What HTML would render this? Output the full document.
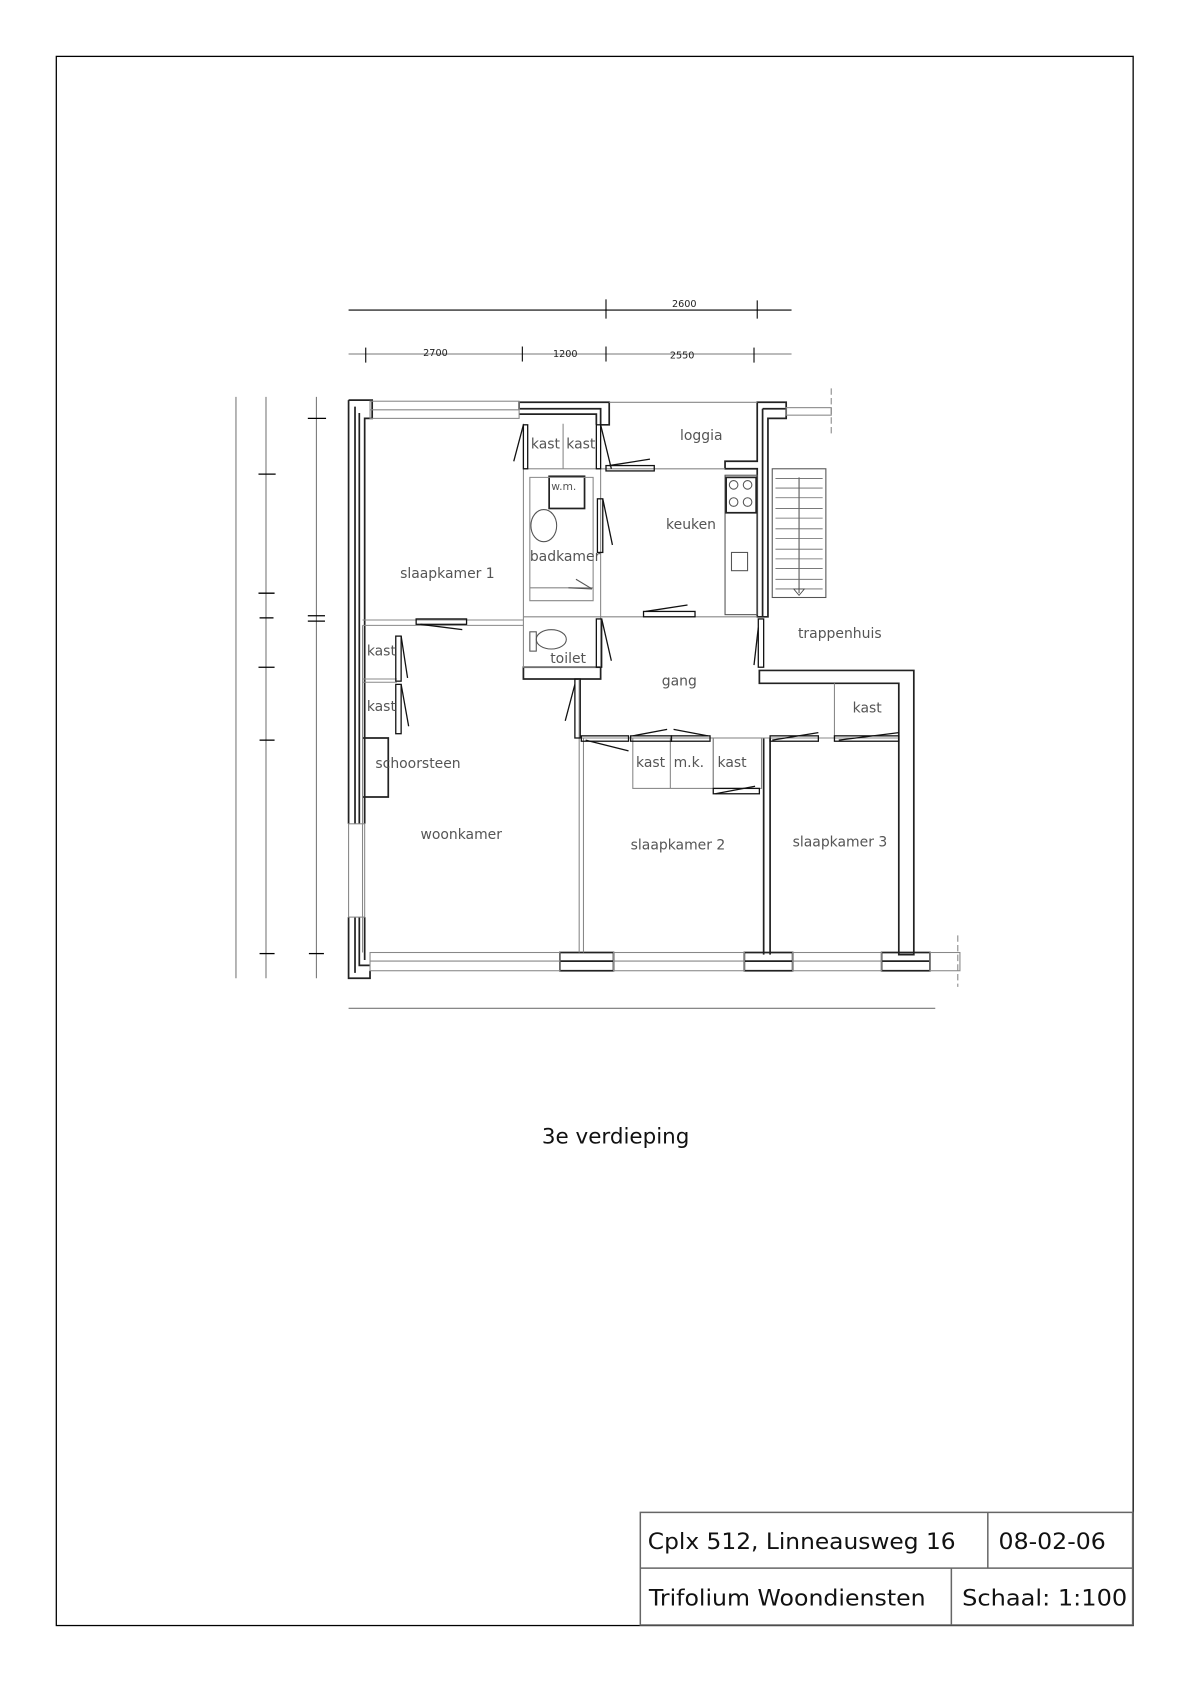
<!DOCTYPE html>
<html><head><meta charset="utf-8"><style>
html,body{margin:0;padding:0;background:#fff;}
svg{display:block;}
text{font-family:"DejaVu Sans","Liberation Sans",sans-serif;}
</style></head><body>
<svg width="1190" height="1683" viewBox="0 0 1109.5 1569" xmlns="http://www.w3.org/2000/svg">
<rect x="0" y="0" width="1109.5" height="1569" fill="#fff"/>
<!-- border -->
<rect x="52.5" y="52.5" width="1004" height="1463" fill="none" stroke="#000" stroke-width="1.2"/>
<!-- title block -->
<g fill="none" stroke="#666" stroke-width="1.4">
<rect x="597" y="1410" width="459" height="105"/>
<line x1="597" y1="1462" x2="1056" y2="1462"/>
<line x1="921" y1="1410" x2="921" y2="1462"/>
<line x1="887" y1="1462" x2="887" y2="1515"/>
</g>
<g font-size="21" fill="#111">
<text x="604" y="1444" textLength="287" lengthAdjust="spacingAndGlyphs">Cplx 512, Linneausweg 16</text>
<text x="931" y="1444" textLength="100" lengthAdjust="spacingAndGlyphs">08-02-06</text>
<text x="605" y="1497" textLength="258" lengthAdjust="spacingAndGlyphs">Trifolium Woondiensten</text>
<text x="897" y="1497" textLength="154" lengthAdjust="spacingAndGlyphs">Schaal: 1:100</text>
</g>
<text x="574" y="1066" font-size="20" text-anchor="middle" fill="#111">3e verdieping</text>

<!-- dimension lines -->
<g stroke="#000" stroke-width="1">
<line x1="325" y1="289" x2="738" y2="289"/>
<line x1="565" y1="279" x2="565" y2="297"/>
<line x1="706" y1="280" x2="706" y2="297"/>
<line x1="325" y1="330" x2="738" y2="330" stroke="#777"/>
<line x1="341" y1="324" x2="341" y2="338"/>
<line x1="487" y1="323" x2="487" y2="337"/>
<line x1="565" y1="323" x2="565" y2="337"/>
<line x1="703" y1="324" x2="703" y2="338"/>
</g>
<g font-size="9" font-family="Liberation Sans" fill="#222">
<text x="638" y="286" text-anchor="middle" font-family="Liberation Sans">2600</text>
<text x="406" y="332" text-anchor="middle" font-family="Liberation Sans">2700</text>
<text x="527" y="333" text-anchor="middle" font-family="Liberation Sans">1200</text>
<text x="636" y="334" text-anchor="middle" font-family="Liberation Sans">2550</text>
</g>
<g stroke="#777" stroke-width="1">
<line x1="220" y1="370" x2="220" y2="912"/>
<line x1="248" y1="370" x2="248" y2="912"/>
<line x1="295" y1="370" x2="295" y2="912"/>
<line x1="325" y1="940" x2="872" y2="940"/>
</g>
<g stroke="#000" stroke-width="1.2">
<line x1="241" y1="442" x2="257" y2="442"/><line x1="241" y1="553" x2="256" y2="553"/>
<line x1="242" y1="576" x2="255" y2="576"/><line x1="241" y1="622" x2="256" y2="622"/>
<line x1="242" y1="690" x2="256" y2="690"/><line x1="242" y1="889" x2="256" y2="889"/>
<line x1="287" y1="390" x2="304" y2="390"/><line x1="287" y1="574" x2="303" y2="574"/>
<line x1="287" y1="579" x2="303" y2="579"/><line x1="288" y1="889" x2="302" y2="889"/>
</g>

<!-- walls (dark) -->
<g fill="none" stroke="#222" stroke-width="1.6">
<!-- left outer wall -->
<path d="M325 373 H347 V390 H340 V768 M325 373 V768 M325 855 V912 H345 V905 M340 855 V895"/>
<path d="M331 379 V768 M335 385 V768 M331 855 V907 M335 855 V900 H345"/>
<!-- top middle wall block -->
<path d="M484 375 H568 V396 H560 V381 H484 Z"/>
<path d="M484 386 H556 V396"/>
<!-- right top wall -->
<path d="M706 375 H733 V390 H716 V575 H706 V437 H676 V430 H706 Z"/>
<path d="M711 381 H733 M711 381 V575"/>
<!-- toilet thick bottom -->
<rect x="488" y="622" width="72" height="11"/>
<!-- gang right wall -->
<path d="M708 625 H852 V890 H838 V637 H708 Z"/>
<!-- slaapkamer2/3 wall -->
<path d="M712 688 V890 M718 688 V890"/>
<!-- bottom wall piers -->
<rect x="522" y="888" width="50" height="17"/><line x1="522" y1="896" x2="572" y2="896"/>
<rect x="694" y="888" width="45" height="17"/><line x1="694" y1="896" x2="739" y2="896"/>
<rect x="822" y="888" width="45" height="17"/><line x1="822" y1="896" x2="867" y2="896"/>
<!-- schoorsteen -->
<path d="M338 688 H362 V743 H338"/>
<!-- kitchen counter -->
<rect x="676" y="443" width="30" height="130" stroke="#555" stroke-width="1"/>
<rect x="677" y="445" width="28" height="33"/>
<!-- wm -->
<rect x="512" y="444" width="33" height="30"/>
</g>
<!-- windows (gray) -->
<g fill="none" stroke="#888" stroke-width="1">
<rect x="345" y="374" width="139" height="16"/>
<line x1="345" y1="382" x2="484" y2="382"/>
<line x1="568" y1="375" x2="706" y2="375"/>
<rect x="733" y="380" width="42" height="7"/>
<line x1="775" y1="362" x2="775" y2="405" stroke-dasharray="6,3"/>
<rect x="325" y="768" width="15" height="87"/>
<rect x="345" y="888" width="177" height="17"/><line x1="345" y1="896" x2="522" y2="896"/>
<rect x="572" y="888" width="122" height="17"/><line x1="572" y1="896" x2="694" y2="896"/>
<rect x="739" y="888" width="83" height="17"/><line x1="739" y1="896" x2="822" y2="896"/>
<rect x="867" y="888" width="28" height="17"/>
<line x1="893" y1="872" x2="893" y2="920" stroke-dasharray="6,3"/>
<!-- inner partitions -->
<rect x="488" y="437" width="72" height="185"/>
<line x1="488" y1="395" x2="488" y2="437"/>
<line x1="525" y1="395" x2="525" y2="437"/>
<line x1="560" y1="437" x2="676" y2="437"/>
<line x1="560" y1="575" x2="706" y2="575"/>
<line x1="488" y1="575" x2="560" y2="575"/>
<line x1="338" y1="578" x2="488" y2="578"/>
<line x1="338" y1="583" x2="488" y2="583"/>
<line x1="338" y1="583" x2="338" y2="888"/>
<line x1="338" y1="633" x2="370" y2="633"/>
<line x1="338" y1="636" x2="370" y2="636"/>
<line x1="540" y1="633" x2="540" y2="888"/>
<line x1="544" y1="688" x2="544" y2="888"/>
<line x1="540" y1="688" x2="838" y2="688"/>
<line x1="778" y1="637" x2="778" y2="688"/>
<rect x="590" y="688" width="75" height="47"/>
<line x1="625" y1="688" x2="625" y2="735"/>
<rect x="665" y="688" width="45" height="47"/>
<rect x="720" y="437" width="50" height="120" stroke="#555"/>
<line x1="745" y1="445" x2="745" y2="553" stroke="#555"/>
<path d="M494 445 H553 V560 H494 Z M494 548 H553"/>
</g>
<!-- stairs treads -->
<g stroke="#666" stroke-width="0.8">
<line x1="723" y1="446" x2="767" y2="446"/><line x1="723" y1="455" x2="767" y2="455"/>
<line x1="723" y1="464" x2="767" y2="464"/><line x1="723" y1="474" x2="767" y2="474"/>
<line x1="723" y1="483" x2="767" y2="483"/><line x1="723" y1="493" x2="767" y2="493"/>
<line x1="723" y1="502" x2="767" y2="502"/><line x1="723" y1="512" x2="767" y2="512"/>
<line x1="723" y1="521" x2="767" y2="521"/><line x1="723" y1="530" x2="767" y2="530"/>
<line x1="723" y1="540" x2="767" y2="540"/><line x1="723" y1="549" x2="767" y2="549"/>
</g>
<path d="M740 549 L750 549 L745 555 Z" fill="none" stroke="#444" stroke-width="0.8"/>
<!-- fixtures -->
<g fill="none" stroke="#555" stroke-width="1">
<ellipse cx="507" cy="490" rx="12" ry="15"/>
<ellipse cx="514" cy="596" rx="14" ry="9"/>
<rect x="494" y="589" width="6" height="18"/>
<rect x="682" y="515" width="15" height="17"/>
<circle cx="684" cy="452" r="4"/><circle cx="697" cy="452" r="4"/>
<circle cx="684" cy="468" r="4"/><circle cx="697" cy="468" r="4"/>
<line x1="537" y1="540" x2="552" y2="549"/><line x1="530" y1="548" x2="552" y2="549"/>
</g>
<!-- doors -->
<g fill="none" stroke="#111" stroke-width="1.2">
<rect x="488" y="396" width="4" height="41"/><path d="M488 396 L479 430"/>
<rect x="556" y="396" width="4" height="41"/><path d="M560 396 L570 437"/>
<rect x="565" y="434" width="45" height="5"/><path d="M568 434 L606 428"/>
<rect x="557" y="465" width="5" height="50"/><path d="M562 465 L571 508"/>
<rect x="600" y="570" width="48" height="5"/><path d="M602 570 L641 564"/>
<rect x="388" y="577" width="47" height="5"/><path d="M392 582 L431 587"/>
<rect x="556" y="577" width="5" height="45"/><path d="M561 577 L570 616"/>
<rect x="707" y="577" width="5" height="45"/><path d="M707 585 L703 620"/>
<rect x="369" y="593" width="5" height="42"/><path d="M374 593 L380 632"/>
<rect x="369" y="638" width="5" height="46"/><path d="M374 638 L381 677"/>
<rect x="536" y="633" width="5" height="55"/><path d="M536 638 L527 672"/>
<rect x="542" y="686" width="44" height="5"/><path d="M546 690 L586 700"/>
<rect x="588" y="686" width="38" height="5"/><rect x="626" y="686" width="36" height="5"/>
<path d="M590 686 L622 680 M660 686 L628 680"/>
<rect x="665" y="735" width="43" height="5"/><path d="M667 740 L704 733"/>
<rect x="718" y="686" width="45" height="5"/><path d="M720 690 L763 683"/>
<rect x="778" y="686" width="60" height="5"/><path d="M782 690 L838 683"/>
</g>
<!-- labels -->
<g font-size="13" fill="#555">
<text x="495" y="418">kast</text><text x="528" y="418">kast</text>
<text x="634" y="410">loggia</text>
<text x="514" y="457" font-size="10">w.m.</text>
<text x="621" y="493">keuken</text>
<text x="494" y="523">badkamer</text>
<text x="373" y="539">slaapkamer 1</text>
<text x="744" y="595">trappenhuis</text>
<text x="342" y="611">kast</text>
<text x="513" y="618">toilet</text>
<text x="617" y="639">gang</text>
<text x="342" y="663">kast</text>
<text x="795" y="664">kast</text>
<text x="350" y="716">schoorsteen</text>
<text x="593" y="715">kast</text><text x="628" y="715">m.k.</text><text x="669" y="715">kast</text>
<text x="392" y="782">woonkamer</text>
<text x="588" y="792">slaapkamer 2</text>
<text x="739" y="789">slaapkamer 3</text>
</g>
</svg>
</body></html>
